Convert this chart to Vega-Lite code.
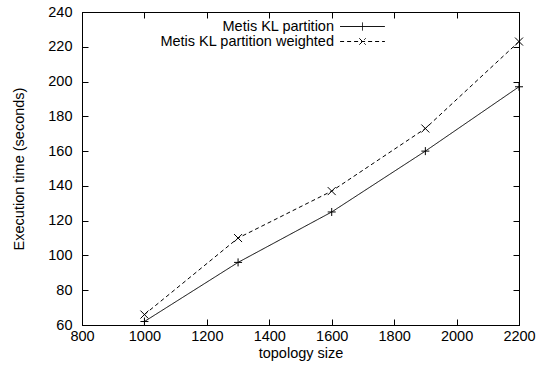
{
  "$schema": "https://vega.github.io/schema/vega-lite/v6.json",
  "width": 437,
  "height": 313,
  "autosize": {"type": "none"},
  "padding": {"left": 82, "top": 12, "right": 29, "bottom": 48},
  "background": "white",
  "config": {
    "view": {"stroke": "black", "strokeWidth": 1},
    "font": "Liberation Sans",
    "axis": {
      "labelFont": "Liberation Sans", "labelFontSize": 14.5, "labelColor": "black",
      "titleFont": "Liberation Sans", "titleFontSize": 14.5, "titleFontWeight": "normal", "titleColor": "black",
      "domainColor": "black", "tickColor": "black", "grid": false,
      "tickSize": -6, "labelPadding": 3, "labelFlush": false, "labelOverlap": false, "format": "d"
    },
    "legend": {"padding": 0}
  },
  "data": {"values": [
    {"size": 1000, "time": 62, "series": "Metis KL partition"},
    {"size": 1300, "time": 96, "series": "Metis KL partition"},
    {"size": 1600, "time": 125, "series": "Metis KL partition"},
    {"size": 1900, "time": 160, "series": "Metis KL partition"},
    {"size": 2200, "time": 197, "series": "Metis KL partition"},
    {"size": 1000, "time": 66, "series": "Metis KL partition weighted"},
    {"size": 1300, "time": 110, "series": "Metis KL partition weighted"},
    {"size": 1600, "time": 137, "series": "Metis KL partition weighted"},
    {"size": 1900, "time": 173, "series": "Metis KL partition weighted"},
    {"size": 2200, "time": 223, "series": "Metis KL partition weighted"}
  ]},
  "layer": [
    {
      "mark": {"type": "line", "color": "black", "strokeWidth": 1},
      "encoding": {
        "x": {"field": "size", "type": "quantitative", "scale": {"domain": [800, 2200], "nice": false, "zero": false},
              "axis": {"orient": "bottom", "title": "topology size", "values": [800, 1000, 1200, 1400, 1600, 1800, 2000, 2200], "labelPadding": 10, "titlePadding": 4}},
        "y": {"field": "time", "type": "quantitative", "scale": {"domain": [60, 240], "nice": false, "zero": false},
              "axis": {"orient": "left", "title": "Execution time (seconds)", "values": [60, 80, 100, 120, 140, 160, 180, 200, 220, 240], "labelPadding": 16, "titlePadding": 21}},
        "strokeDash": {"field": "series", "type": "nominal",
          "scale": {"domain": ["Metis KL partition", "Metis KL partition weighted"], "range": [[1, 0], [4, 3]]},
          "legend": {
            "title": null, "orient": "none", "legendX": 272, "legendY": 6,
            "symbolType": "M-2.8,0H2.8", "symbolSize": 256, "symbolStrokeColor": "black", "symbolStrokeWidth": 1,
            "labelAlign": "right", "labelOffset": -37, "labelFontSize": 14.5, "labelFont": "Liberation Sans", "labelColor": "black",
            "labelLimit": 400, "rowPadding": 0,
            "encode": {"symbols": {"update": {"shape": {"signal": "datum.index === 0 ? 'M-2.8,0H2.8M0,-0.5V0.5' : 'M-2.8,0H2.8M-0.4,-0.4L0.4,0.4M-0.4,0.4L0.4,-0.4'"}}}}
          }}
      }
    },
    {
      "transform": [{"filter": "datum.series === 'Metis KL partition'"}],
      "mark": {"type": "point", "filled": false, "color": "black", "strokeWidth": 1, "size": 64, "opacity": 1, "shape": "M-1,0H1M0,-1V1"},
      "encoding": {
        "x": {"field": "size", "type": "quantitative", "scale": {"domain": [800, 2200], "nice": false, "zero": false},
              "axis": {"orient": "top", "title": null, "labels": false, "values": [800, 1000, 1200, 1400, 1600, 1800, 2000, 2200]}},
        "y": {"field": "time", "type": "quantitative", "scale": {"domain": [60, 240], "nice": false, "zero": false},
              "axis": {"orient": "right", "title": null, "labels": false, "values": [60, 80, 100, 120, 140, 160, 180, 200, 220, 240]}}
      }
    },
    {
      "transform": [{"filter": "datum.series === 'Metis KL partition weighted'"}],
      "mark": {"type": "point", "filled": false, "color": "black", "strokeWidth": 1, "size": 64, "opacity": 1, "shape": "M-1,-1L1,1M-1,1L1,-1"},
      "encoding": {
        "x": {"field": "size", "type": "quantitative", "scale": {"domain": [800, 2200], "nice": false, "zero": false}, "axis": null},
        "y": {"field": "time", "type": "quantitative", "scale": {"domain": [60, 240], "nice": false, "zero": false}, "axis": null}
      }
    }
  ],
  "resolve": {"axis": {"x": "independent", "y": "independent"}}
}
